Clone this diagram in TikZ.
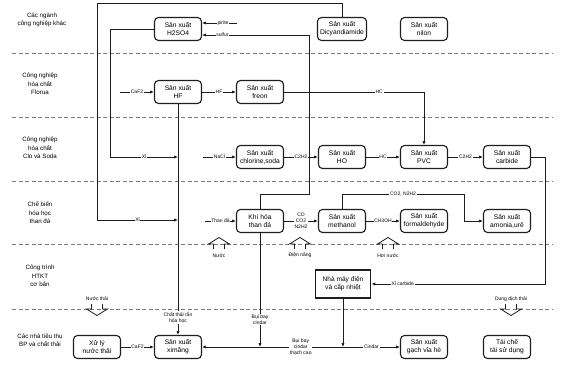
\documentclass[tikz,border=0pt]{standalone}
\usepackage{fontspec}
\setmainfont{Liberation Sans}
\usetikzlibrary{arrows.meta,calc,positioning}
\definecolor{inkline}{HTML}{1E1E1E}
\definecolor{bandgray}{HTML}{7A7A7A}

\begin{document}
\begin{tikzpicture}[x=1pt,y=-1pt,
    proc/.style={draw=inkline,line width=1.1pt,rounded corners=4pt,minimum width=47pt,minimum height=23pt,inner sep=0pt,align=center,font=\fontsize{6.7}{7.8}\selectfont},
    plant/.style={draw=inkline,line width=1.9pt,minimum width=55pt,minimum height=28pt,inner sep=0pt,align=center,font=\fontsize{6.6}{8}\selectfont},
    rowlab/.style={align=center,font=\fontsize{6.2}{8.4}\selectfont},
    flow/.style={draw=inkline,line width=0.8pt,-{Latex[length=3.8pt,width=3.2pt]}},
    tag/.style={fill=white,inner sep=0.7pt,align=center,font=\fontsize{5}{6}\selectfont},
    feedtag/.style={inner sep=0pt,align=center,font=\fontsize{5}{6}\selectfont},
    band/.style={bandgray,dash pattern=on 4pt off 2.5pt,line width=0.7pt},
    feed/.style={draw=inkline,line width=0.8pt,line join=miter}]
    \useasboundingbox (0,0) rectangle (564,365);
    \foreach \y in {53,117,181,244,309} {
      \draw[band] (12,\y) -- (552,\y);
    }
    \node[rowlab] (rowother) at (42,20) {Các ngành\\công nghiệp khác};
    \node[rowlab] (rowfluor) at (40,84) {Công nghiệp\\hóa chất\\Florua};
    \node[rowlab] (rowclo) at (40,148) {Công nghiệp\\hóa chất\\Clo và Soda};
    \node[rowlab] (rowcoal) at (40,213) {Chế biến\\hóa học\\than đá};
    \node[rowlab] (rowinfra) at (40,276) {Công trình\\HTKT\\cơ bản};
    \node[rowlab] (rowuser) at (40,340) {Các nhà tiêu thụ\\BP và chất thải};

    \node[proc] (h2so4) at (178,29) {Sản xuất\\H2SO4};
    \node[proc,minimum width=49pt] (dicy) at (342,29) {Sản xuất\\Dicyandiamide};
    \node[proc] (nilon) at (424,29) {Sản xuất\\nilon};
    \node[proc] (hf) at (178,92) {Sản xuất\\HF};
    \node[proc] (freon) at (260,92) {Sản xuất\\freon};
    \node[proc] (clo) at (260,157) {Sản xuất\\chlorine,soda};
    \node[proc] (ho) at (342,157) {Sản xuất\\HO};
    \node[proc] (pvc) at (424,157) {Sản xuất\\PVC};
    \node[proc] (carbide) at (507,157) {Sản xuất\\carbide};
    \node[proc] (khihoa) at (260,221) {Khí hóa\\than đá};
    \node[proc] (methanol) at (342,221) {Sản xuất\\methanol};
    \node[proc] (formal) at (424,221) {Sản xuất\\formaldehyde};
    \node[proc] (amonia) at (507,221) {Sản xuất\\amonia,urê};
    \node[plant] (nhamay) at (343,284) {Nhà máy điện\\và cấp nhiệt};
    \node[proc] (xuly) at (97,347) {Xử lý\\nước thải};
    \node[proc] (ximang) at (178,347) {Sản xuất\\ximăng};
    \node[proc] (gach) at (424,347) {Sản xuất\\gạch vỉa hè};
    \node[proc] (taiche) at (507,347) {Tái chế\\tái sử dụng};

    \coordinate (pirin) at (237,23);
    \coordinate (sulf) at (309,35);
    \coordinate (skink) at (309,194);
    \coordinate (topl) at (97,3);
    \coordinate (xione) at (97,220);
    \coordinate (xitwo) at (110,157);
    \coordinate (cafin) at (120,92);
    \coordinate (naclin) at (203,157);
    \coordinate (thanin) at (205,221);
    \coordinate (cturn) at (545,284);
    \coordinate (mtop) at (464,194);
    \coordinate (jk) at (260,347);
    \coordinate (jn) at (343,347);

    \draw[flow] (pirin) -- node[tag,pos=0.4]{pirite} (pirin -| h2so4.east);
    \draw[flow] (khihoa.north) |- (skink) -- (sulf) -- node[tag,pos=0.81]{sulfur} (sulf -| h2so4.east);
    \draw[flow] (dicy.north) |- (topl) -- (xione) -- node[tag]{Xỉ} (xione -| hf.south);
    \draw[flow] (h2so4.west) -| (xitwo) -- node[tag]{Xỉ} (xitwo -| hf.south);
    \draw[flow] (hf.south) -- node[tag,pos=0.925]{Chất thải rắn\\hóa học} (ximang.north);
    \draw[flow] (cafin) -- node[tag]{CaF2} (hf.west);
    \draw[flow] (hf.east) -- node[tag]{HF} (freon.west);
    \draw[flow] (freon.east) -| node[tag,pos=0.34]{HC} (pvc.north);
    \draw[flow] (naclin) -- node[tag]{NaCl} (clo.west);
    \draw[flow] (clo.east) -- node[tag]{C2H2} (ho.west);
    \draw[flow] (ho.east) -- node[tag]{HC} (pvc.west);
    \draw[flow] (pvc.east) -- node[tag]{C2H2} (carbide.west);
    \draw[flow] (carbide.east) -| (cturn) -- node[tag,pos=0.82]{Xỉ carbide} (nhamay.east);
    \draw[flow] (thanin) -- node[tag]{Than đá} (khihoa.west);
    \draw[flow] (khihoa.east) -- node[tag]{CO\\CO2\\N2H2} (methanol.west);
    \draw[flow] (methanol.east) -- node[tag]{CH3OH} (formal.west);
    \draw[flow] (methanol.north) |- node[tag,pos=0.75]{CO2, N2H2} (mtop) |- (amonia.west);
    \draw[flow] (khihoa.south) -- node[tag,pos=0.76]{Bụi bay\\cindar} (jk);
    \draw[flow] (nhamay.south) -- (jn);
    \draw[flow] (jn) -- node[tag,pos=0.3]{Bụi bay\\cindar\\thạch cao} (ximang.east);
    \draw[flow] (jn) -- node[tag]{Cindar} (gach.west);
    \draw[flow] (xuly.east) -- node[tag]{CaF2} (ximang.west);

    \foreach \bx/\txt [count=\i] in {219/Nước,300/Điện năng,388/Hơi nước} {
      \draw[feed] (\bx-5.5,249) -- (\bx-5.5,244) -- (\bx-10.5,244) -- (\bx,237.5)
        -- (\bx+10.5,244) -- (\bx+5.5,244) -- (\bx+5.5,249);
      \node[feedtag] (feedin\i) at (\bx,255.5) {\txt};
    }
    \foreach \bx/\txt [count=\i] in {97/Nước thải,511/Dung dịch thải} {
      \draw[feed] (\bx-5.5,304) -- (\bx-5.5,309) -- (\bx-10.5,309) -- (\bx,315.5)
        -- (\bx+10.5,309) -- (\bx+5.5,309) -- (\bx+5.5,304);
      \node[feedtag] (feedout\i) at (\bx,299) {\txt};
    }
\end{tikzpicture}
\end{document}
